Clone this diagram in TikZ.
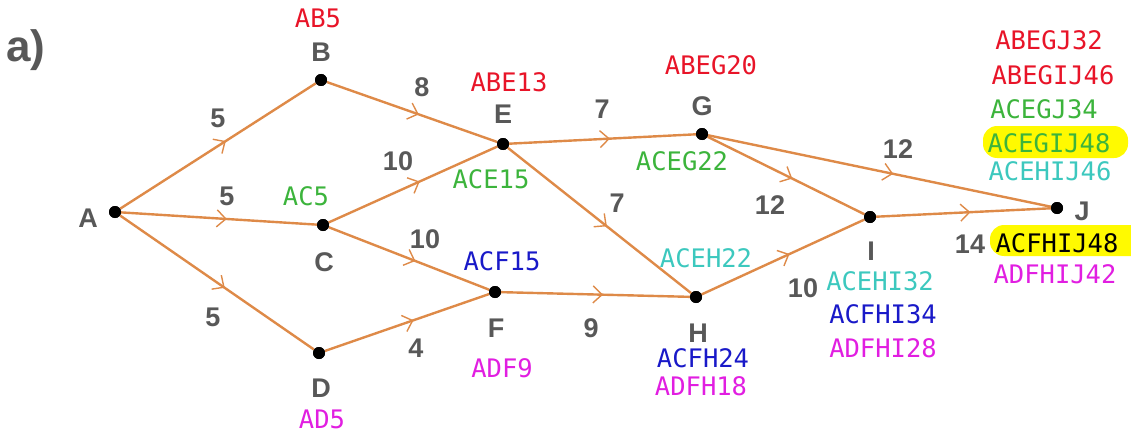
\documentclass[tikz,border=0pt]{standalone}
\usepackage{fontspec}
\setmainfont{Liberation Sans}
\newfontfamily\pathfont{DejaVu Sans Mono}
\usetikzlibrary{arrows.meta,decorations.markings}
\definecolor{edgec}{RGB}{222,138,72}
\definecolor{grayc}{RGB}{88,88,88}
\definecolor{pred}{RGB}{232,20,40}
\definecolor{pgreen}{RGB}{60,180,60}
\definecolor{pblue}{RGB}{25,25,200}
\definecolor{pmag}{RGB}{225,30,225}
\definecolor{pteal}{RGB}{60,200,190}
\definecolor{hyel}{RGB}{255,250,0}
\tikzset{
  dot/.style={circle,fill=black,inner sep=0pt,minimum size=12pt},
  edge/.style={draw=edgec,line width=2.4pt,
    postaction={decorate,decoration={markings,
      mark=at position 0.54 with {\arrow[edgec]{Straight Barb[length=9pt,width=17pt,line width=1.4pt]}}}}},
  lbl/.style={text=grayc,font=\fontsize{27}{27}\selectfont\bfseries,anchor=base,inner sep=0pt},
  pth/.style={font=\pathfont\fontsize{25.5}{25.5}\selectfont,anchor=base,inner sep=0pt},
}
\begin{document}
\begin{tikzpicture}[x=1pt,y=-1pt]
\useasboundingbox (0,0) rectangle (1131,433);
% highlights
\begin{scope}
\clip (0,0) rectangle (1131,433);
\fill[hyel,rounded corners=14pt] (983,126) rectangle (1128,158);
\fill[hyel,rounded corners=14pt] (990,225) rectangle (1160,256);
\end{scope}
% nodes
\node[dot] (A) at (115,212) {};
\node[dot] (B) at (321,80) {};
\node[dot] (C) at (323,225) {};
\node[dot] (D) at (319,353) {};
\node[dot] (E) at (503,144) {};
\node[dot] (F) at (495,292) {};
\node[dot] (G) at (702,134) {};
\node[dot] (H) at (696,297) {};
\node[dot] (I) at (870,217) {};
\node[dot] (J) at (1057,208) {};
% edges
\draw[edge] (A) -- (B);
\draw[edge] (A) -- (C);
\draw[edge] (A) -- (D);
\draw[edge] (B) -- (E);
\draw[edge] (C) -- (E);
\draw[edge] (C) -- (F);
\draw[edge] (D) -- (F);
\draw[edge] (E) -- (G);
\draw[edge] (E) -- (H);
\draw[edge] (F) -- (H);
\draw[edge] (G) -- (I);
\draw[edge] (G) -- (J);
\draw[edge] (H) -- (I);
\draw[edge] (I) -- (J);
% redraw dots on top
\foreach \n in {A,B,C,D,E,F,G,H,I,J} \fill (\n) circle (6pt);
% title
\node[text=grayc,font=\fontsize{44}{44}\selectfont\bfseries,anchor=base,inner sep=0pt] (title) at (26,62) {a)};
% node letters
\node[lbl] (lA) at (88,227) {A};
\node[lbl] (lB) at (321,62) {B};
\node[lbl] (lC) at (324,271) {C};
\node[lbl] (lD) at (321,397) {D};
\node[lbl] (lE) at (503,124) {E};
\node[lbl] (lF) at (496,337) {F};
\node[lbl] (lG) at (702,116) {G};
\node[lbl] (lH) at (698,342) {H};
\node[lbl] (lI) at (871,260) {I};
\node[lbl] (lJ) at (1082,220) {J};
% weights
\node[lbl] (wAB) at (218,128) {5};
\node[lbl] (wAC) at (227,205) {5};
\node[lbl] (wAD) at (213,326) {5};
\node[lbl] (wBE) at (422,97) {8};
\node[lbl] (wCE) at (398,170) {10};
\node[lbl] (wCF) at (425,248) {10};
\node[lbl] (wDF) at (416,357) {4};
\node[lbl] (wEG) at (602,118) {7};
\node[lbl] (wEH) at (617,212) {7};
\node[lbl] (wFH) at (591,337) {9};
\node[lbl] (wGI) at (770,214) {12};
\node[lbl] (wGJ) at (898,158) {12};
\node[lbl] (wHI) at (803,297) {10};
\node[lbl] (wIJ) at (970,253) {14};
% path labels
\node[pth,text=pred] at (318,28) {AB5};
\node[pth,text=pgreen] at (306,205) {AC5};
\node[pth,text=pmag] at (322,428) {AD5};
\node[pth,text=pred] at (509,92) {ABE13};
\node[pth,text=pgreen] at (491,188) {ACE15};
\node[pth,text=pblue] at (502,270) {ACF15};
\node[pth,text=pmag] at (502,377) {ADF9};
\node[pth,text=pred] at (711,75) {ABEG20};
\node[pth,text=pgreen] at (682,170) {ACEG22};
\node[pth,text=pteal] at (706,267) {ACEH22};
\node[pth,text=pblue] at (703,367) {ACFH24};
\node[pth,text=pmag] at (701,395) {ADFH18};
\node[pth,text=pteal] at (880,290) {ACEHI32};
\node[pth,text=pblue] at (883,323) {ACFHI34};
\node[pth,text=pmag] at (883,357) {ADFHI28};
\node[pth,text=pred] at (1049,50) {ABEGJ32};
\node[pth,text=pred] at (1053,85) {ABEGIJ46};
\node[pth,text=pgreen] at (1044,118) {ACEGJ34};
\node[pth,text=pgreen] at (1049,152) {ACEGIJ48};
\node[pth,text=pteal] at (1050,180) {ACEHIJ46};
\node[pth,text=black] at (1057,252) {ACFHIJ48};
\node[pth,text=pmag] at (1055,283) {ADFHIJ42};
\end{tikzpicture}
\end{document}
